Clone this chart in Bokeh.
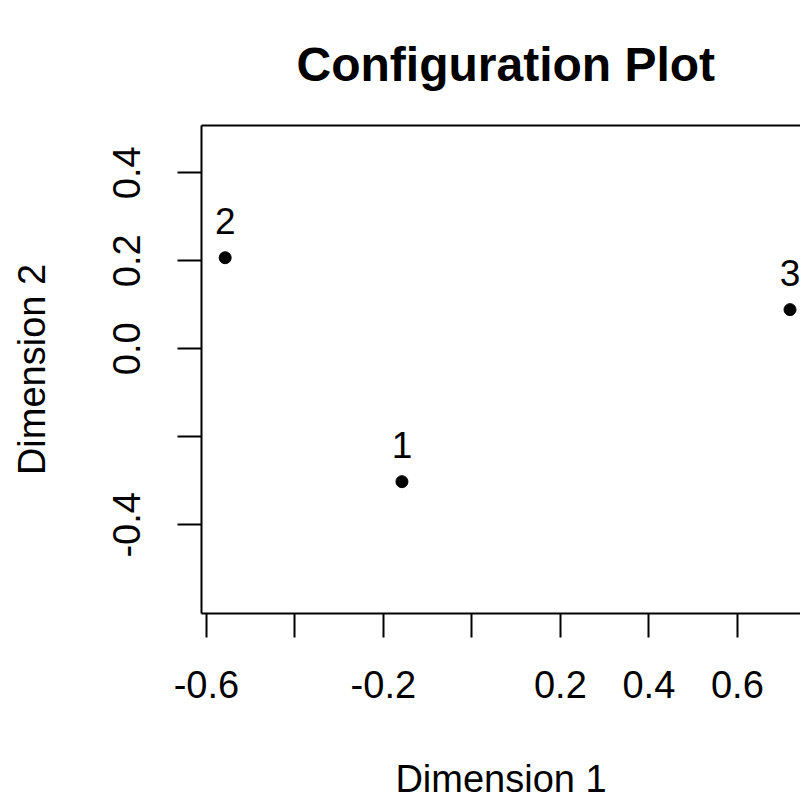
from bokeh.plotting import figure
from bokeh.models import ColumnDataSource, LabelSet, FixedTicker, Range1d, LinearAxis
from bokeh.core.properties import value
from bokeh.embed import file_html
from bokeh.resources import INLINE

# Data
point_labels = ["1", "2", "3"]
dim1 = [-0.158, -0.5575, 0.719]
dim2 = [-0.302, 0.207, 0.089]

x_ticks = [-0.6, -0.4, -0.2, 0.0, 0.2, 0.4, 0.6]
x_tick_labels = ["-0.6", "", "-0.2", "", "0.2", "0.4", "0.6"]
y_ticks = [-0.4, -0.2, 0.0, 0.2, 0.4]
y_tick_labels = ["-0.4", "", "0.0", "0.2", "0.4"]

FONT = "Liberation Sans"

p = figure(
    width=800, height=802,
    x_range=Range1d(-0.611, 0.7427),
    y_range=Range1d(-0.6016, 0.5075),
    output_backend="svg", toolbar_location=None,
    min_border_left=201, min_border_right=0,
    min_border_top=125, min_border_bottom=189,
    title="Configuration Plot",
)
p.outline_line_color = None
p.background_fill_color = "white"
p.border_fill_color = "white"
p.grid.visible = False

p.title.text_font = FONT
p.title.text_font_size = "48px"
p.title.text_font_style = "bold"
p.title.text_color = "black"
p.title.align = "left"
p.title.offset = 95
p.title.standoff = 70

src = ColumnDataSource(dict(x=dim1, y=dim2, lab=point_labels))
p.scatter("x", "y", source=src, size=12, color="black")
labels = LabelSet(x="x", y="y", text="lab", source=src, y_offset=24,
                  text_align="center", text_baseline="alphabetic",
                  text_font=value(FONT), text_font_size="37px", text_color="black")
p.add_layout(labels)

def style_axis(ax):
    ax.axis_line_color = "black"
    ax.axis_line_width = 2
    ax.major_tick_line_color = "black"
    ax.major_tick_line_width = 2
    ax.major_tick_out = 24
    ax.major_tick_in = 0
    ax.minor_tick_line_color = None
    ax.major_label_text_font = FONT
    ax.major_label_text_font_size = "38px"
    ax.major_label_text_color = "black"
    ax.axis_label_text_font = FONT
    ax.axis_label_text_font_size = "38px"
    ax.axis_label_text_font_style = "normal"
    ax.axis_label_text_color = "black"

xa = p.xaxis[0]
style_axis(xa)
xa.ticker = FixedTicker(ticks=x_ticks)
xa.major_label_overrides = {t: l for t, l in zip(x_ticks, x_tick_labels)}
xa.major_label_standoff = 33
xa.axis_label = "Dimension 1"
xa.axis_label_standoff = 57

ya = p.yaxis[0]
style_axis(ya)
ya.ticker = FixedTicker(ticks=y_ticks)
ya.major_label_overrides = {t: l for t, l in zip(y_ticks, y_tick_labels)}
ya.major_label_orientation = "vertical"
ya.major_label_standoff = 37
ya.axis_label = "Dimension 2"
ya.axis_label_standoff = 58

top = LinearAxis(ticker=FixedTicker(ticks=[]))
top.axis_line_color = "black"
top.axis_line_width = 2
top.major_tick_line_color = None
top.minor_tick_line_color = None
top.major_label_text_font_size = "0px"
p.add_layout(top, "above")

open("out.html", "w").write(file_html(p, INLINE))
